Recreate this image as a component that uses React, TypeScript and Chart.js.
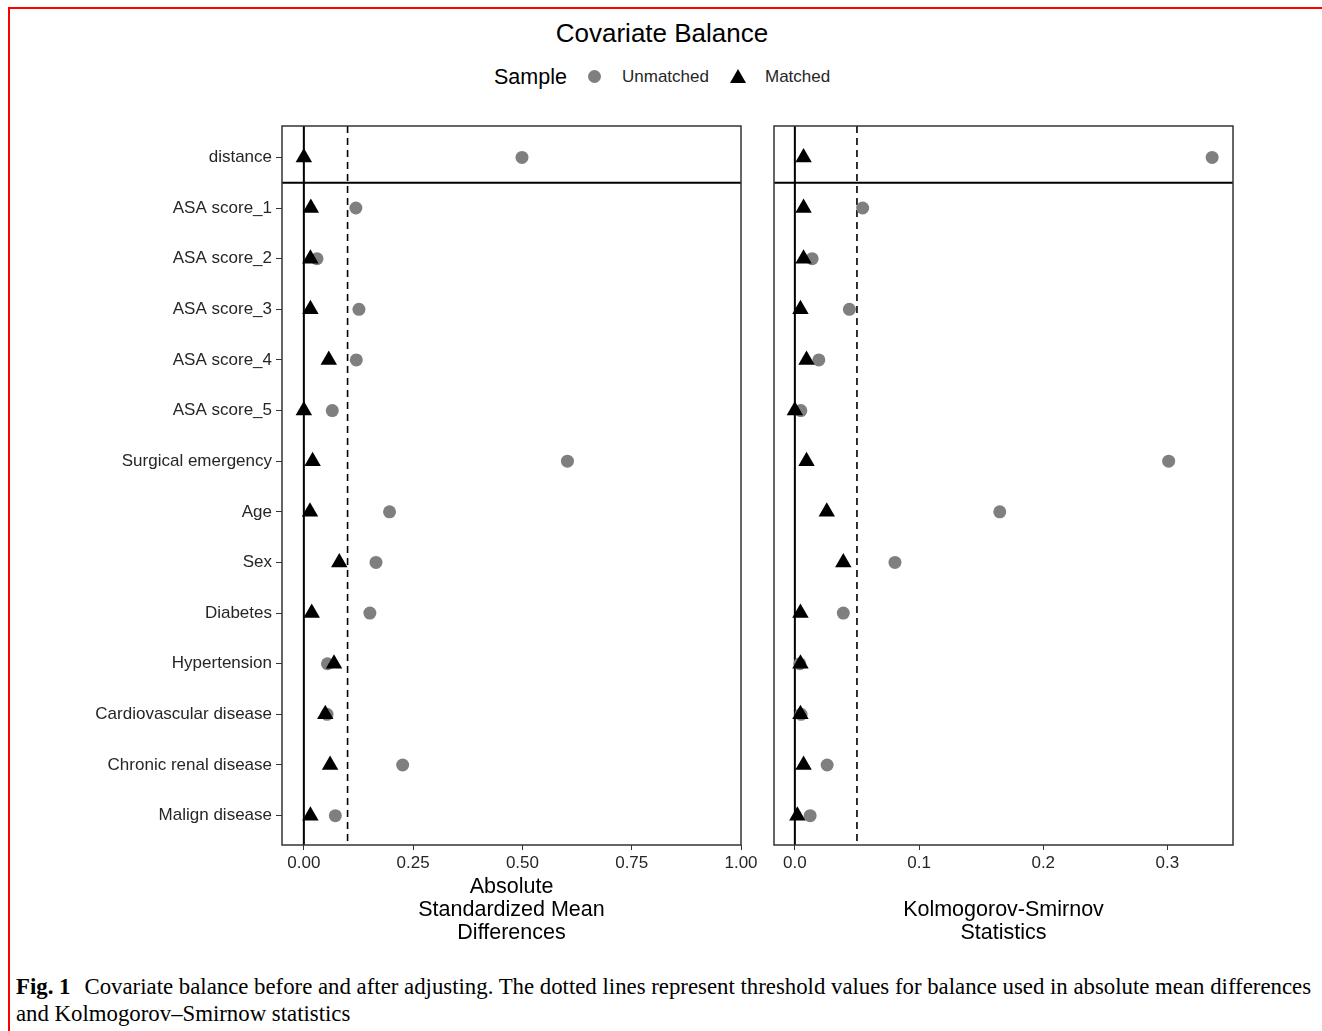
import React, { useEffect, useRef } from "react";
import { Chart, registerables } from "chart.js";

Chart.register(...registerables);

// ---------- data ----------
const covariates = [
  "distance",
  "ASA score_1",
  "ASA score_2",
  "ASA score_3",
  "ASA score_4",
  "ASA score_5",
  "Surgical emergency",
  "Age",
  "Sex",
  "Diabetes",
  "Hypertension",
  "Cardiovascular disease",
  "Chronic renal disease",
  "Malign disease",
];

const smdUnmatched = [0.499, 0.119, 0.03, 0.126, 0.12, 0.065, 0.603, 0.196, 0.165, 0.151, 0.054, 0.053, 0.226, 0.072];
const smdMatched = [0.0, 0.016, 0.015, 0.015, 0.057, 0.0, 0.02, 0.014, 0.081, 0.018, 0.069, 0.049, 0.06, 0.015];
const ksUnmatched = [0.336, 0.0546, 0.0139, 0.0439, 0.0193, 0.0048, 0.301, 0.165, 0.0806, 0.039, 0.004, 0.005, 0.026, 0.0123];
const ksMatched = [0.007, 0.007, 0.007, 0.0045, 0.0094, 0.0, 0.0094, 0.0257, 0.039, 0.0045, 0.0045, 0.0045, 0.007, 0.002];

const smdTicks = [0, 0.25, 0.5, 0.75, 1.0];
const ksTicks = [0, 0.1, 0.2, 0.3];
const smdThreshold = 0.1;
const ksThreshold = 0.05;
const smdLimits = [-0.05, 1.0];
const ksLimits = [-0.0168, 0.3528];
const rowLimits = [-0.62, 13.58];
const separatorAt = 0.5;

const smdTitle = ["Absolute", "Standardized Mean", "Differences"];
const ksTitle = ["Kolmogorov-Smirnov", "Statistics"];

const SANS = "'Liberation Sans', Arial, Helvetica, sans-serif";
const SERIF = "'Liberation Serif', 'Times New Roman', serif";
const TEXT = "#262626";

const borderPlugin = {
  id: "panelBorder",
  afterDatasetsDraw(chart: any) {
    const { ctx, chartArea } = chart;
    ctx.save();
    ctx.strokeStyle = "#333";
    ctx.lineWidth = 1.5;
    ctx.strokeRect(chartArea.left, chartArea.top, chartArea.width, chartArea.height);
    ctx.restore();
  },
};

type PanelProps = {
  left: number;
  top: number;
  width: number;
  height: number;
  padding: { top: number; left: number; right: number; bottom: number };
  unmatched: number[];
  matched: number[];
  limits: number[];
  ticks: number[];
  digits: number;
  threshold: number;
  title: string[];
  showY: boolean;
};

function Panel(p: PanelProps) {
  const ref = useRef<HTMLCanvasElement>(null);
  useEffect(() => {
    const [yMin, yMax] = rowLimits;
    const chart = new Chart(ref.current as HTMLCanvasElement, {
      type: "scatter",
      data: {
        datasets: [
          {
            label: "Matched",
            data: p.matched.map((v, i) => ({ x: v, y: i })),
            pointStyle: "triangle",
            pointRadius: 9.5,
            backgroundColor: "#000",
            borderColor: "#000",
            borderWidth: 0,
            order: 0,
          },
          {
            label: "Unmatched",
            data: p.unmatched.map((v, i) => ({ x: v, y: i })),
            pointStyle: "circle",
            pointRadius: 6.5,
            backgroundColor: "#7f7f7f",
            borderColor: "#7f7f7f",
            borderWidth: 0,
            order: 1,
          },
          {
            label: "zero",
            data: [
              { x: 0, y: yMin },
              { x: 0, y: yMax },
            ],
            showLine: true,
            borderColor: "#000",
            borderWidth: 2,
            pointRadius: 0,
            order: 2,
          },
          {
            label: "threshold",
            data: [
              { x: p.threshold, y: yMin },
              { x: p.threshold, y: yMax },
            ],
            showLine: true,
            borderColor: "#000",
            borderWidth: 1.6,
            borderDash: [7, 5],
            pointRadius: 0,
            order: 2,
          },
          {
            label: "separator",
            data: [
              { x: p.limits[0], y: separatorAt },
              { x: p.limits[1], y: separatorAt },
            ],
            showLine: true,
            borderColor: "#000",
            borderWidth: 2,
            pointRadius: 0,
            order: 2,
          },
        ],
      } as any,
      options: {
        animation: false,
        responsive: false,
        maintainAspectRatio: false,
        events: [],
        layout: { padding: p.padding },
        plugins: { legend: { display: false }, tooltip: { enabled: false }, title: { display: false } },
        scales: {
          x: {
            type: "linear",
            min: p.limits[0],
            max: p.limits[1],
            afterBuildTicks: (s: any) => {
              s.ticks = p.ticks.map((v) => ({ value: v }));
            },
            afterFit: (s: any) => {
              s.height = 100;
            },
            ticks: {
              callback: (v: any) => Number(v).toFixed(p.digits),
              font: { family: SANS, size: 17 },
              color: TEXT,
              padding: 3,
              maxRotation: 0,
              autoSkip: false,
            },
            grid: { display: true, drawOnChartArea: false, drawTicks: true, tickLength: 5, color: "#333" },
            border: { display: false },
            title: {
              display: true,
              text: p.title,
              color: "#000",
              font: { family: SANS, size: 21.5, lineHeight: 1.07 },
              padding: { top: 0, bottom: 0 },
            },
          },
          y: {
            type: "linear",
            reverse: true,
            min: rowLimits[0],
            max: rowLimits[1],
            display: p.showY,
            afterBuildTicks: (s: any) => {
              s.ticks = covariates.map((_, i) => ({ value: i }));
            },
            afterFit: (s: any) => {
              if (p.showY) s.width = 282;
            },
            ticks: {
              callback: (v: any) => covariates[Math.round(Number(v))],
              font: { family: SANS, size: 17 },
              color: TEXT,
              padding: 4,
              autoSkip: false,
            },
            grid: { display: true, drawOnChartArea: false, drawTicks: true, tickLength: 6, color: "#333" },
            border: { display: false },
          },
        },
      } as any,
      plugins: [borderPlugin],
    });
    return () => chart.destroy();
  }, []);
  return (
    <canvas
      ref={ref}
      width={p.width}
      height={p.height}
      style={{ position: "absolute", left: p.left, top: p.top, width: p.width, height: p.height }}
    />
  );
}

export default function App() {
  return (
    <div
      style={{
        position: "absolute",
        left: 0,
        top: 0,
        width: 1322,
        height: 1031,
        background: "#fff",
        overflow: "hidden",
        fontFamily: SANS,
      }}
    >
      <div
        style={{
          position: "absolute",
          left: 8,
          top: 7,
          right: -10,
          bottom: -10,
          borderTop: "2px solid #f00",
          borderLeft: "2px solid #f00",
        }}
      />
      <div
        style={{
          position: "absolute",
          left: 0,
          top: 18,
          width: 1324,
          textAlign: "center",
          fontSize: 26,
          lineHeight: "30px",
          color: "#000",
        }}
      >
        Covariate Balance
      </div>
      <div style={{ position: "absolute", left: 494, top: 64, fontSize: 21.5, lineHeight: "26px", color: "#000" }}>Sample</div>
      <div
        style={{
          position: "absolute",
          left: 588,
          top: 70,
          width: 13,
          height: 13,
          borderRadius: "50%",
          background: "#7f7f7f",
        }}
      />
      <div style={{ position: "absolute", left: 622, top: 66, fontSize: 17, lineHeight: "21px", color: TEXT }}>Unmatched</div>
      <svg style={{ position: "absolute", left: 730, top: 69 }} width={16} height={14} viewBox="0 0 16 14">
        <polygon points="8,0 16,14 0,14" fill="#000" />
      </svg>
      <div style={{ position: "absolute", left: 765, top: 66, fontSize: 17, lineHeight: "21px", color: TEXT }}>Matched</div>

      <Panel
        left={0}
        top={100}
        width={766}
        height={845}
        padding={{ top: 26, left: 0, right: 25, bottom: 0 }}
        unmatched={smdUnmatched}
        matched={smdMatched}
        limits={smdLimits}
        ticks={smdTicks}
        digits={2}
        threshold={smdThreshold}
        title={smdTitle}
        showY={true}
      />
      <Panel
        left={764}
        top={100}
        width={489}
        height={845}
        padding={{ top: 26, left: 10, right: 20, bottom: 0 }}
        unmatched={ksUnmatched}
        matched={ksMatched}
        limits={ksLimits}
        ticks={ksTicks}
        digits={1}
        threshold={ksThreshold}
        title={ksTitle}
        showY={false}
      />

      <div
        style={{
          position: "absolute",
          left: 16,
          top: 973,
          fontFamily: SERIF,
          fontSize: 22.8,
          lineHeight: "27px",
          color: "#000",
          whiteSpace: "nowrap",
        }}
      >
        <div>
          <b>Fig. 1</b>
          <span style={{ display: "inline-block", width: 14 }} />
          Covariate balance before and after adjusting. The dotted lines represent threshold values for balance used in absolute mean differences
        </div>
        <div>and Kolmogorov–Smirnow statistics</div>
      </div>
    </div>
  );
}
